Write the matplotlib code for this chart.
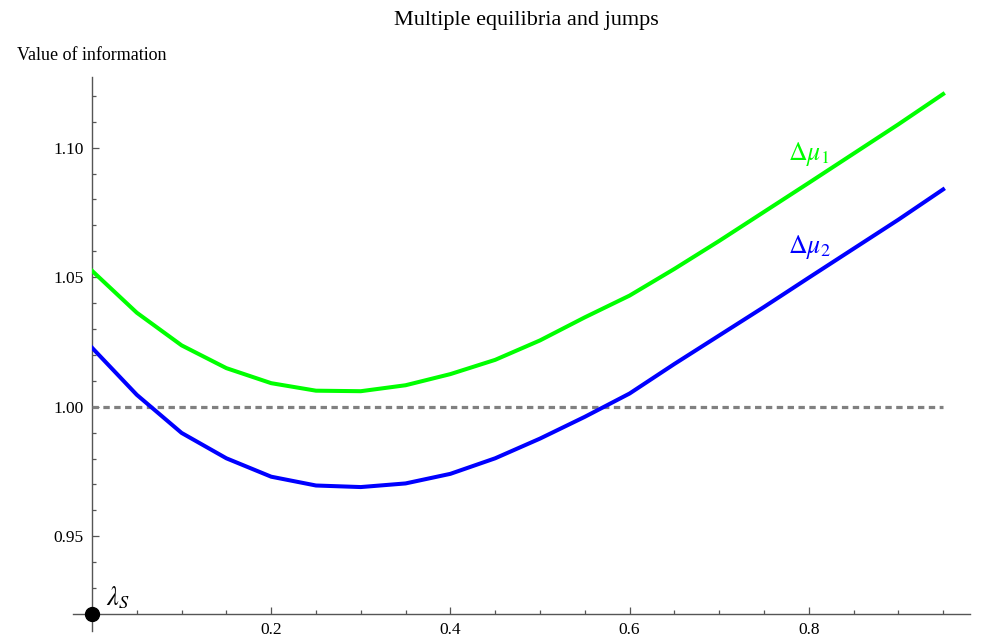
import matplotlib
matplotlib.use("Agg")
import matplotlib.pyplot as plt
from matplotlib.lines import Line2D
from matplotlib.ticker import FixedLocator

# ---- data ----
x_vals = [0.00, 0.05, 0.10, 0.15, 0.20, 0.25, 0.30, 0.35, 0.40, 0.45,
          0.50, 0.55, 0.60, 0.65, 0.70, 0.75, 0.80, 0.85, 0.90, 0.95]
mu1 = [1.0525, 1.0363, 1.0237, 1.0149, 1.0091, 1.0062, 1.0060, 1.0083, 1.0126, 1.0181,
       1.0256, 1.0345, 1.0429, 1.0532, 1.0640, 1.0752, 1.0864, 1.0977, 1.1090, 1.1207]
mu2 = [1.0228, 1.0046, 0.9899, 0.9801, 0.9730, 0.9696, 0.9690, 0.9704, 0.9741, 0.9801,
       0.9877, 0.9961, 1.0051, 1.0165, 1.0275, 1.0385, 1.0498, 1.0610, 1.0722, 1.0839]
ref_level = 1.0
x_major = [0.2, 0.4, 0.6, 0.8]
x_minor = [0.05, 0.10, 0.15, 0.25, 0.30, 0.35, 0.45, 0.50, 0.55, 0.65, 0.70, 0.75, 0.85, 0.90, 0.95]
y_major = [0.95, 1.00, 1.05, 1.10]
y_minor = [0.93, 0.94, 0.96, 0.97, 0.98, 0.99, 1.01, 1.02, 1.03, 1.04, 1.06, 1.07, 1.08, 1.09, 1.11, 1.12]
title = "Multiple equilibria and jumps"
ylabel = "Value of information"

plt.rcParams['font.family'] = ['Liberation Serif', 'DejaVu Serif']
plt.rcParams['mathtext.fontset'] = 'stix'

W, H = 987, 642
fig = plt.figure(figsize=(W / 100, H / 100), dpi=100)
ax = fig.add_axes([92 / W, 28 / H, 878 / W, 537.3 / H])
ax.set_xlim(0, 0.98)
ax.set_ylim(0.92, 1.1274)

for s in ax.spines.values():
    s.set_visible(False)

axcol = '#555555'
# axis lines with small overhang like Mathematica
ax.add_line(Line2D([-19 / 878, 1.0], [0, 0], transform=ax.transAxes, color=axcol, lw=1.0, clip_on=False))
ax.add_line(Line2D([0, 0], [-17 / 537.3, 1.0], transform=ax.transAxes, color=axcol, lw=1.0, clip_on=False))

ax.xaxis.set_major_locator(FixedLocator(x_major))
ax.xaxis.set_minor_locator(FixedLocator(x_minor))
ax.yaxis.set_major_locator(FixedLocator(y_major))
ax.yaxis.set_minor_locator(FixedLocator(y_minor))
ax.set_xticklabels([f"{v:.1f}" for v in x_major])
ax.set_yticklabels([f"{v:.2f}" for v in y_major])
ax.tick_params(axis='both', which='both', direction='in', color=axcol, width=0.9, labelsize=12.5)
ax.tick_params(axis='both', which='major', length=5)
ax.tick_params(axis='both', which='minor', length=3)
ax.tick_params(axis='x', which='major', pad=6)
ax.tick_params(axis='y', which='major', pad=6)

ax.plot(x_vals, [ref_level] * len(x_vals), color='#808080', lw=2.3, dashes=(2.0, 1.4))
ax.plot(x_vals, mu1, color='#00FF00', lw=2.9, solid_joinstyle='miter')
ax.plot(x_vals, mu2, color='#0000FF', lw=2.9, solid_joinstyle='miter')

ax.text(0.777, 1.0975, r'$\Delta\mu_{1}$', color='#00FF00', fontsize=18.5, ha='left', va='center')
ax.text(0.777, 1.0615, r'$\Delta\mu_{2}$', color='#0000FF', fontsize=18.5, ha='left', va='center')

ax.plot([0], [0.92], 'o', color='black', markersize=10, clip_on=False, zorder=5)
ax.text(0.016, 0.9212, r'$\lambda_S$', fontsize=19, ha='left', va='bottom')

fig.text(526 / W, 1 - 21 / H, title, ha='center', va='center', fontsize=16)
fig.text(17 / W, 1 - 55 / H, ylabel, ha='left', va='center', fontsize=13)

fig.savefig('out.png', dpi=100)
